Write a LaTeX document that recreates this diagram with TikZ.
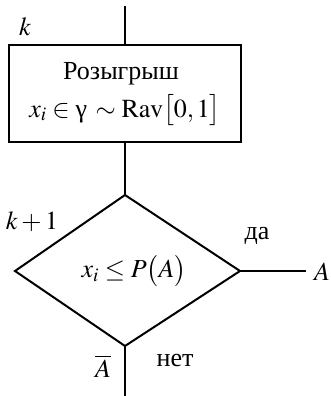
\documentclass[tikz,border=0pt]{standalone}
\usepackage{mathptmx}
\usepackage{fontspec}
\setmainfont{Liberation Serif}
\newfontfamily\serifcyr{Liberation Serif}
\begin{document}
\begin{tikzpicture}[x=1pt,y=-1pt,line width=2pt,
  lbl/.style={inner sep=0pt,font=\serifcyr\fontsize{26}{30}\selectfont}]
\useasboundingbox (0,0) rectangle (331,396);
\coordinate (top) at (125,6);
\node[draw,minimum width=232pt,minimum height=97pt,inner sep=0pt] (box) at (125,93.5) {};
\node[lbl,anchor=base] (t1) at (121,79) {Розыгрыш};
\node[lbl,anchor=base] (t2) at (125,117) {$x_i \in \mbox{\serifcyr γ} \,\sim \mathrm{Rav}\bigl[0,1\bigr]$};
\coordinate (dt) at (125,195);
\coordinate (dl) at (15,271);
\coordinate (dr) at (240,271);
\coordinate (db) at (125,346);
\draw (dt) -- (dr) -- (db) -- (dl) -- cycle;
\node[lbl] (cond) at (134,271) {$x_i \le P\bigl(A\bigr)$};
\coordinate (aend) at (306,271);
\coordinate (bot) at (125,396);
\draw (top) -- (box.north);
\draw (box.south) -- (dt);
\draw (dr) -- (aend);
\draw (db) -- (bot);
\node[lbl] (k) at (25,27) {$k$};
\node[lbl] (k1) at (32,222) {$k+1$};
\node[lbl] (da) at (257,236) {да};
\node[lbl] (A) at (322,272) {$A$};
\node[lbl] (net) at (175,360) {нет};
\node[lbl] (nA) at (103,366) {$\overline{A}$};
\end{tikzpicture}
\end{document}
